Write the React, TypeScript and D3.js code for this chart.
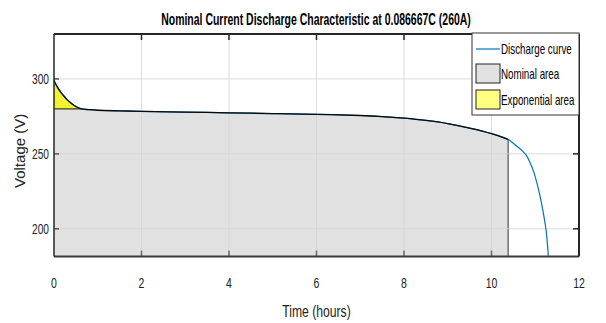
import * as d3 from "d3";

const timeHours = [
  0, 0.05, 0.1, 0.15, 0.2, 0.3, 0.4, 0.5, 0.63, 0.8, 1, 1.5, 2, 3, 4, 5, 6, 7, 7.5, 8, 8.5, 9, 9.5, 10,
  10.38, 10.55, 10.7, 10.8, 10.88, 10.96, 11.03, 11.1, 11.15, 11.2, 11.25, 11.3,
];
const voltage = [
  299, 296, 293.5, 291.3, 289.5, 286.2, 283.6, 281.6, 280, 279.5, 279.1, 278.7, 278.4, 277.9, 277.4,
  276.9, 276.4, 275.6, 274.9, 273.8, 272.3, 270.2, 267.2, 263.5, 259.6, 255.8, 252.2, 248.8, 244.3,
  238.5, 231.5, 223, 216, 208, 198.5, 181.5,
];
const nominalEnd = 10.38;
const exponentialEnd = 0.63;
const exponentialVoltage = 280;
const xTicks = [0, 2, 4, 6, 8, 10, 12];
const yTicks = [200, 250, 300];
const legendLabels = ["Discharge curve", "Nominal area", "Exponential area"];

const W = 606;
const H = 323;
const margin = { top: 34, right: 27, bottom: 66.5, left: 54 };
const sans = "'Liberation Sans', Arial, sans-serif";

type P = { t: number; v: number };

// condensed text, like the narrow Helvetica of the original
function NText(props: {
  x: number;
  y: number;
  size: number;
  anchor?: "start" | "middle" | "end";
  sx?: number;
  bold?: boolean;
  fill?: string;
  children: string | number;
}) {
  const { x, y, size, anchor = "start", sx = 0.8, bold, fill = "#222", children } = props;
  return (
    <text
      transform={`translate(${x},${y}) scale(${sx},1)`}
      textAnchor={anchor}
      fontFamily={sans}
      fontSize={size}
      fontWeight={bold ? "bold" : "normal"}
      fill={fill}
    >
      {children}
    </text>
  );
}

export default function App() {
  const iw = W - margin.left - margin.right;
  const ih = H - margin.top - margin.bottom;
  const x = d3.scaleLinear().domain([0, 12]).range([0, iw]);
  const y = d3.scaleLinear().domain([181.5, 330]).range([ih, 0]);

  const pts: P[] = timeHours.map((t, i) => ({ t, v: voltage[i] }));
  const curve = d3.curveCatmullRom.alpha(0.5);
  const line = d3
    .line<P>()
    .x((d) => x(d.t))
    .y((d) => y(d.v))
    .curve(curve);

  const nomPts = pts.filter((d) => d.t <= nominalEnd);
  const expPts = pts.filter((d) => d.t <= exponentialEnd);

  const nomArea = d3
    .area<P>()
    .x((d) => x(d.t))
    .y0(y(181.5))
    .y1((d) => y(d.v))
    .curve(curve);
  const expArea = d3
    .area<P>()
    .x((d) => x(d.t))
    .y0(y(exponentialVoltage))
    .y1((d) => y(d.v))
    .curve(curve);

  const grid = "#d4d4d4";
  const axisC = "#262626";

  return (
    <svg
      width={W}
      height={H}
      style={{ position: "absolute", left: 0, top: 0, background: "#fff" }}
    >
      <NText x={316} y={25} size={16} anchor="middle" bold sx={0.655} fill="#000">
        Nominal Current Discharge Characteristic at 0.086667C (260A)
      </NText>
      <g transform={`translate(${margin.left},${margin.top})`}>
        <path d={nomArea(nomPts) ?? ""} fill="#e1e1e1" stroke="none" />
        <line
          x1={x(nominalEnd)}
          x2={x(nominalEnd)}
          y1={y(nomPts[nomPts.length - 1].v)}
          y2={ih}
          stroke="#333"
          strokeWidth={1}
        />
        <path d={expArea(expPts) ?? ""} fill="#f2f230" stroke="none" />
        <line
          x1={0}
          x2={x(exponentialEnd)}
          y1={y(exponentialVoltage)}
          y2={y(exponentialVoltage)}
          stroke="#111"
          strokeWidth={1}
        />
        {xTicks.slice(1, -1).map((t) => (
          <line key={"gx" + t} x1={x(t)} x2={x(t)} y1={0} y2={ih} stroke={grid} strokeWidth={1} opacity={0.8} />
        ))}
        {yTicks.map((v) => (
          <line key={"gy" + v} x1={0} x2={iw} y1={y(v)} y2={y(v)} stroke={grid} strokeWidth={1} opacity={0.8} />
        ))}
        <path d={line(pts) ?? ""} fill="none" stroke="#0072bd" strokeWidth={1.2} />
        <path d={line(nomPts) ?? ""} fill="none" stroke="#0a0a0a" strokeWidth={1.3} />
        {xTicks.slice(1, -1).map((t) => (
          <g key={"tx" + t}>
            <line x1={x(t)} x2={x(t)} y1={0} y2={6} stroke={axisC} strokeWidth={1.5} />
            <line x1={x(t)} x2={x(t)} y1={ih} y2={ih - 6} stroke="#6a6a6a" strokeWidth={1.5} />
          </g>
        ))}
        {yTicks.map((v) => (
          <g key={"ty" + v}>
            <line x1={0} x2={5} y1={y(v)} y2={y(v)} stroke="#555" strokeWidth={1.5} />
            <line x1={iw} x2={iw - 6} y1={y(v)} y2={y(v)} stroke={axisC} strokeWidth={1.5} />
          </g>
        ))}
        <line x1={0} x2={iw} y1={0} y2={0} stroke={axisC} strokeWidth={2} />
        <line x1={0} x2={iw} y1={ih} y2={ih} stroke="#3a3a3a" strokeWidth={2} />
        <line x1={0} x2={0} y1={0} y2={ih} stroke={axisC} strokeWidth={1.5} />
        <line x1={iw} x2={iw} y1={0} y2={ih} stroke={axisC} strokeWidth={2} />
        {xTicks.map((t) => (
          <NText key={"lx" + t} x={x(t)} y={ih + 31} size={15} anchor="middle" sx={0.7}>
            {t}
          </NText>
        ))}
        {yTicks.map((v) => (
          <NText key={"ly" + v} x={-5} y={y(v) + 5} size={15} anchor="end" sx={0.68}>
            {v}
          </NText>
        ))}
        <NText x={x(6)} y={ih + 60} size={16} anchor="middle" sx={0.76}>
          Time (hours)
        </NText>
        <text
          transform={`translate(${-29},${y(252)}) rotate(-90)`}
          textAnchor="middle"
          fontFamily={sans}
          fontSize={15}
          fill="#222"
        >
          Voltage (V)
        </text>
        <g transform={`translate(${iw - 107},${-1})`}>
          <rect x={0} y={0} width={107} height={82} fill="#fff" stroke="#333" strokeWidth={1} />
          <line x1={4} x2={28} y1={16} y2={16} stroke="#0072bd" strokeWidth={1.2} />
          <rect x={4} y={31} width={24} height={19} fill="#e1e1e1" stroke="#222" strokeWidth={1} />
          <rect x={4} y={57} width={24} height={19} fill="#ffff80" stroke="#222" strokeWidth={1} />
          {legendLabels.map((l, i) => (
            <NText key={l} x={29} y={20.5 + i * 25.5} size={14} sx={0.7} fill="#000">
              {l}
            </NText>
          ))}
        </g>
      </g>
    </svg>
  );
}
